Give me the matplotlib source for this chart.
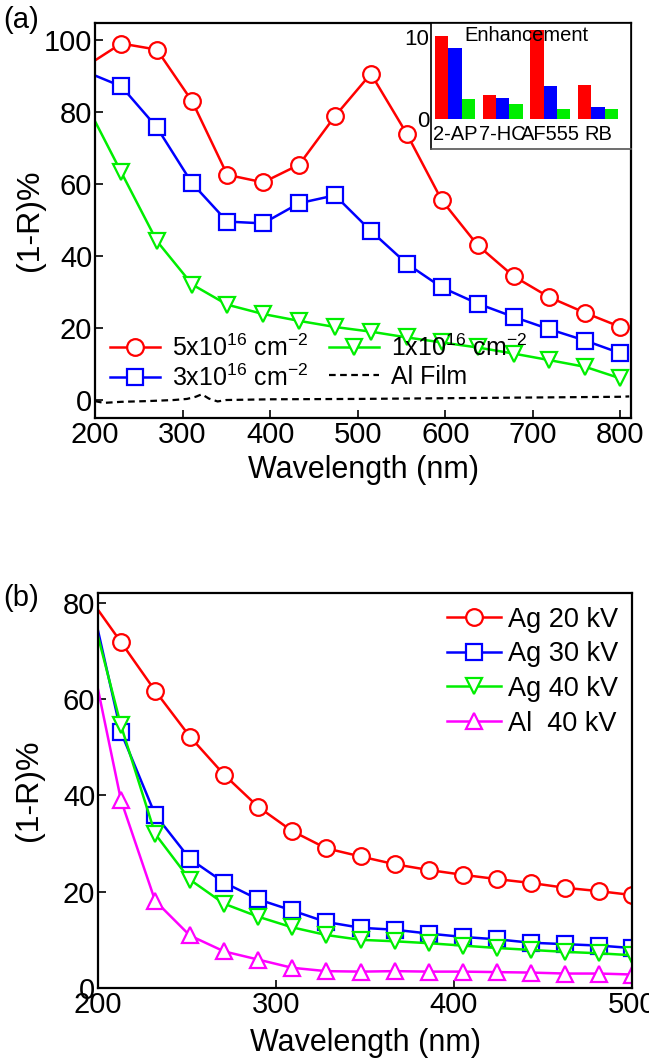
import matplotlib
matplotlib.use('Agg')
import matplotlib.pyplot as plt
import numpy as np

plt.rcParams['font.family'] = ['Liberation Sans', 'DejaVu Sans']
plt.rcParams['mathtext.fontset'] = 'custom'
plt.rcParams['mathtext.rm'] = 'Liberation Sans'

# ---- panel (a) data ----
wl_a = [200, 230, 270.6, 311, 351, 392, 433, 474, 515, 556, 596, 637, 678, 718.5, 760, 800]
red_a = [94.4, 99.1, 97.4, 83.0, 62.6, 60.5, 65.4, 78.9, 90.7, 74.0, 55.5, 43.0, 34.4, 28.6, 24.2, 20.3]
blue_a = [90.2, 87.2, 75.8, 60.2, 49.6, 49.1, 54.7, 56.9, 47.0, 37.9, 31.3, 26.8, 23.1, 19.7, 16.5, 13.0]
green_a = [77.5, 63.3, 44.2, 32.1, 26.5, 23.9, 22.0, 20.3, 19.0, 17.4, 16.0, 14.6, 12.9, 11.1, 9.2, 6.0]
al_wl = [200, 210, 230, 260, 290, 305, 315, 322, 330, 340, 350, 400, 500, 600, 700, 800, 810]
al_film = [-0.3, -0.8, -0.5, -0.3, 0.0, 0.3, 0.9, 1.6, 0.4, -0.4, 0.0, 0.2, 0.3, 0.5, 0.7, 0.9, 1.0]

# inset: enhancement factors
dyes = ['2-AP', '7-HC', 'AF555', 'RB']
enh_red = [10.1, 2.9, 10.8, 4.2]
enh_blue = [8.6, 2.5, 4.0, 1.5]
enh_green = [2.45, 1.8, 1.2, 1.2]

# ---- panel (b) data ----
wl_b = [200, 212.9, 232.1, 251.6, 270.8, 290, 309, 328.2, 347.6, 366.6, 385.8, 405, 424.3, 443.3, 462.5, 481.7, 500]
ag20 = [78.5, 71.8, 61.7, 52.2, 44.3, 37.6, 32.6, 29.0, 27.3, 25.7, 24.5, 23.5, 22.6, 21.8, 20.8, 20.1, 19.3]
ag30 = [74.2, 53.1, 36.0, 26.8, 21.9, 18.4, 16.1, 13.7, 12.5, 12.1, 11.3, 10.6, 10.1, 9.4, 9.1, 8.8, 8.3]
ag40 = [73.0, 54.5, 32.0, 22.5, 17.5, 14.8, 12.6, 11.0, 10.0, 9.7, 9.3, 8.8, 8.3, 7.9, 7.5, 7.2, 6.8]
al40 = [62.0, 39.0, 18.1, 10.9, 7.6, 5.9, 4.2, 3.5, 3.4, 3.5, 3.4, 3.4, 3.3, 3.2, 3.0, 3.0, 2.8]

W, H = 649, 1063
fig = plt.figure(figsize=(W/100, H/100), dpi=100)

def box(l, t, r, b):
    return [l/W, 1-b/H, (r-l)/W, (b-t)/H]

mk = dict(markersize=12, markeredgewidth=1.6, markerfacecolor='white', linewidth=1.8)
FS = 21

# ===== (a) =====
ax = fig.add_axes(box(95, 23, 631, 418))
ax.plot(wl_a, red_a, '-o', color='#ff0000', markevery=list(range(1, len(wl_a))),
        label='5x10$^{16}$ cm$^{-2}$', **mk)
ax.plot(wl_a, blue_a, '-s', color='#0000ff', markevery=list(range(1, len(wl_a))),
        label='3x10$^{16}$ cm$^{-2}$', **mk)
ax.plot(wl_a, green_a, '-v', color='#00ee00', markevery=list(range(1, len(wl_a))),
        label='1x10$^{16}$ cm$^{-2}$', **mk)
ax.plot(al_wl, al_film, '--', color='black', linewidth=1.6, dashes=(3, 2), label='Al Film')
ax.set_xlim(200, 812)
ax.set_ylim(-5, 104.8)
ax.set_xticks([200, 300, 400, 500, 600, 700, 800])
ax.set_yticks([0, 20, 40, 60, 80, 100])
ax.tick_params(direction='in', labelsize=FS, length=6, width=1.2, pad=2)
for s in ax.spines.values():
    s.set_linewidth(1.6)
ax.set_xlabel('Wavelength (nm)', fontsize=22)
ax.set_ylabel('(1-R)%', fontsize=23)
ax.xaxis.set_label_coords(0.5, -0.094)
ax.yaxis.set_label_coords(-0.094, 0.5)
ax.legend(loc='lower left', bbox_to_anchor=(0.0, 0.03), ncol=2, frameon=False,
          fontsize=18, handlelength=2.0, columnspacing=0.8, handletextpad=0.5,
          labelspacing=0.15, borderaxespad=0.2)
fig.text(3/W, 1-20/H, '(a)', fontsize=21, va='center', ha='left')

# inset
ins = fig.add_axes(box(431, 23, 631, 149))
x = np.arange(len(dyes))
bw = 0.28
ins.bar(x - bw, enh_red, bw, color='#ff0000')
ins.bar(x, enh_blue, bw, color='#0000ff')
ins.bar(x + bw, enh_green, bw, color='#00ee00')
ins.set_xlim(-0.5, 3.69)
ins.set_ylim(-3.66, 11.7)
ins.set_xticks([])
ins.set_yticks([0, 10])
ins.tick_params(axis='y', length=0, labelsize=16, pad=1)
for i, d in enumerate(dyes):
    ins.text(i, -1.9, d, ha='center', va='center', fontsize=14.5)
ins.text(1.5, 10.2, 'Enhancement', ha='center', va='center', fontsize=14.5)
for s in ins.spines.values():
    s.set_linewidth(1.2)
ins.spines['bottom'].set_color('#555555')

# ===== (b) =====
bx = fig.add_axes(box(98, 593, 632, 988))
bx.plot(wl_b, ag20, '-o', color='#ff0000', markevery=list(range(1, len(wl_b))), label='Ag 20 kV', **mk)
bx.plot(wl_b, ag30, '-s', color='#0000ff', markevery=list(range(1, len(wl_b))), label='Ag 30 kV', **mk)
bx.plot(wl_b, ag40, '-v', color='#00ee00', markevery=list(range(1, len(wl_b))), label='Ag 40 kV', **mk)
bx.plot(wl_b, al40, '-^', color='#ff00ff', markevery=list(range(1, len(wl_b))), label='Al  40 kV', **mk)
bx.set_xlim(200, 500)
bx.set_ylim(0, 82)
bx.set_xticks([200, 300, 400, 500])
bx.set_yticks([0, 20, 40, 60, 80])
bx.tick_params(direction='in', labelsize=FS, length=6, width=1.2, pad=2)
for s in bx.spines.values():
    s.set_linewidth(1.6)
bx.set_xlabel('Wavelength (nm)', fontsize=22)
bx.set_ylabel('(1-R)%', fontsize=23)
bx.xaxis.set_label_coords(0.5, -0.101)
bx.yaxis.set_label_coords(-0.102, 0.5)
bx.legend(loc='upper right', frameon=False, fontsize=19.5, handlelength=2.0,
          handletextpad=0.25, labelspacing=0.32, borderaxespad=0.1)
fig.text(3/W, 1-598/H, '(b)', fontsize=21, va='center', ha='left')

fig.savefig('out.png', dpi=100)
